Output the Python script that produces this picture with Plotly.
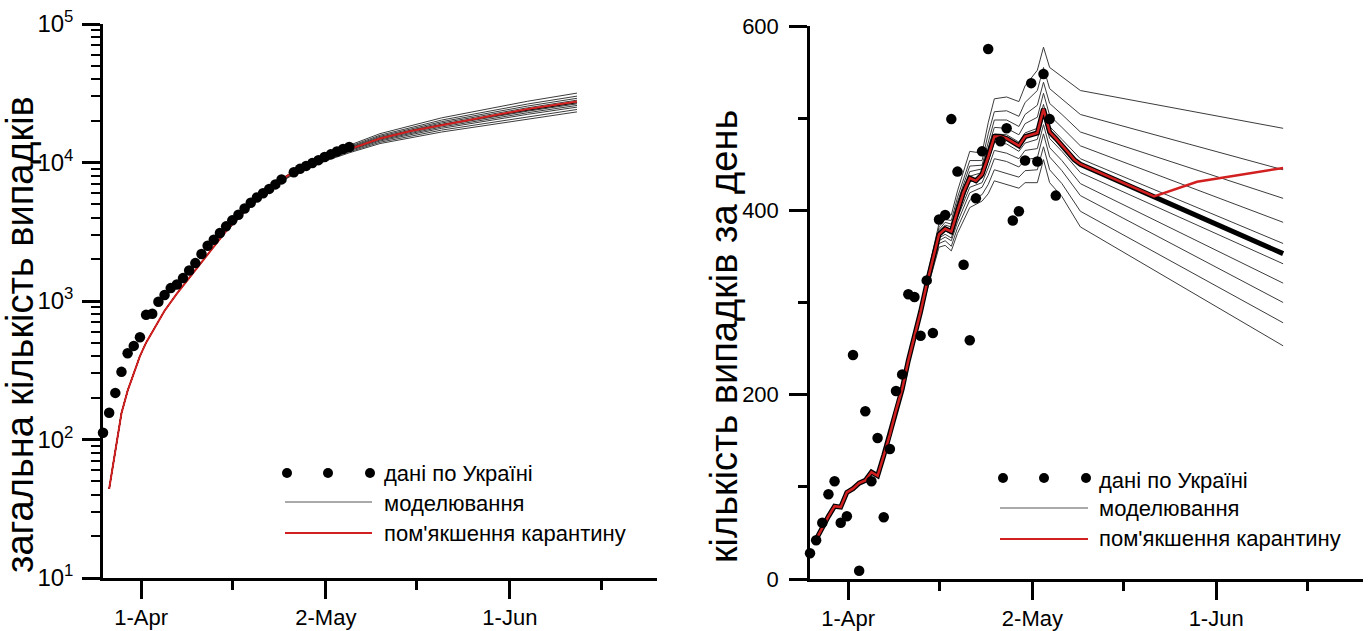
import plotly.graph_objects as go

W, H = 1371, 631
FONT = "Liberation Sans, Arial, sans-serif"

# ---------------- data (day 0 = first observation) ----------------
DOT_DAYS = list(range(0, 30)) + list(range(31, 41))
CUMULATIVE_CASES = [112, 156, 217, 308, 420, 474, 548, 794, 809, 987,
                    1104, 1239, 1316, 1463, 1660, 1878, 2183, 2506, 2769, 3096,
                    3458, 3821, 4200, 4660, 5120, 5595, 6000, 6450, 6950, 7550,
                    8500, 9000, 9450, 9900, 10400, 10950, 11450, 12000, 12500, 12950]
DAILY_CASES = [28, 42, 61, 92, 106, 61, 68, 243, 9, 182,
               106, 153, 67, 141, 204, 222, 309, 306, 264, 324,
               267, 390, 395, 499, 442, 341, 259, 413, 464, 575,
               475, 489, 389, 399, 454, 538, 453, 548, 499, 416]

# cumulative model (left)
LEFT_CENTER_DAYS = [1, 2, 3, 4, 5, 6, 7, 8, 9, 10, 12, 14, 16, 18, 20, 22, 24, 26, 28, 30,
                    32, 34, 36, 38, 40, 42, 45, 50, 55, 61, 69, 77]
LEFT_CENTER = [44, 85, 155, 225, 305, 400, 500, 600, 720, 850, 1130, 1470, 1880, 2440, 3200,
               4000, 4850, 5900, 7000, 8050, 9000, 9850, 10700, 11600, 12500, 13450, 14900,
               16900, 18700, 20800, 23900, 27000]
LEFT_RED_LATE_DAYS = [61, 69, 77]
LEFT_RED_LATE = [20900, 24300, 27600]
LEFT_FAN_DAYS = [20, 24, 28, 32, 36, 40, 45, 55, 69, 77]
LEFT_FAN = [
    [3200, 4870, 7120, 9300, 11220, 13300, 16150, 21000, 27700, 31700],
    [3200, 4860, 7080, 9200, 11050, 13040, 15740, 20240, 26450, 30150],
    [3200, 4860, 7050, 9130, 10930, 12850, 15450, 19710, 25570, 29070],
    [3200, 4855, 7030, 9075, 10830, 12700, 15210, 19280, 24850, 28180],
    [3200, 4852, 7010, 9020, 10740, 12560, 15000, 18880, 24200, 27380],
    [3200, 4847, 6980, 8960, 10640, 12400, 14740, 18430, 23480, 26510],
    [3200, 4844, 6960, 8910, 10550, 12270, 14530, 18050, 22890, 25820],
    [3200, 4840, 6940, 8855, 10450, 12130, 14300, 17650, 22280, 25100],
    [3200, 4835, 6910, 8780, 10330, 11940, 14000, 17130, 21460, 24150],
    [3200, 4830, 6880, 8710, 10200, 11750, 13700, 16600, 20650, 23200],
]

# daily model (right)
RIGHT_CENTER_DAYS = list(range(1, 45)) + [56, 77]
RIGHT_CENTER = [43, 56, 68, 79, 78, 94, 98, 104, 107, 116,
                112, 134, 157, 183, 206, 237, 262, 290, 320, 348,
                374, 380, 377, 399, 420, 435, 432, 439, 458, 480,
                480, 478, 474, 470, 480, 482, 484, 510, 485, 478,
                471, 463, 455, 450, 415, 353]
RIGHT_RED_LATE_DAYS = [63, 77]
RIGHT_RED_LATE = [431, 446]
RIGHT_FAN_DAYS = [17, 19, 21, 22, 23, 24, 26, 28, 29, 30, 32, 34, 35, 37, 38, 39, 41, 44, 77]
RIGHT_FAN = [
    [264, 326, 386, 395, 395, 421, 464, 462, 495, 521, 523, 518, 535, 552, 577, 555, 545, 530, 489],
    [263, 324, 382, 390, 389, 414, 454, 454, 483, 507, 508, 502, 517, 530, 555, 532, 521, 504, 444],
    [263, 323, 379, 387, 385, 409, 448, 449, 474, 498, 498, 491, 504, 514, 539, 516, 504, 485, 413],
    [262, 321, 377, 384, 382, 405, 442, 445, 467, 490, 489, 482, 494, 501, 527, 503, 490, 470, 387],
    [262, 320, 375, 381, 378, 401, 437, 441, 461, 483, 482, 474, 484, 489, 515, 491, 477, 456, 364],
    [261, 319, 372, 378, 374, 396, 431, 435, 453, 474, 472, 464, 473, 477, 503, 478, 464, 441, 342],
    [261, 318, 370, 374, 370, 392, 425, 430, 446, 465, 462, 456, 465, 467, 493, 468, 454, 429, 321],
    [260, 316, 367, 371, 367, 387, 419, 425, 438, 456, 453, 447, 455, 457, 483, 458, 443, 416, 300],
    [259, 314, 364, 367, 361, 381, 411, 417, 428, 444, 440, 436, 443, 444, 469, 444, 429, 399, 278],
    [258, 312, 360, 362, 356, 375, 403, 410, 418, 432, 428, 424, 430, 430, 455, 430, 415, 382, 253],
]

X_TICK_DAYS = [6.2, 36.2, 66.1]
X_TICK_LABELS = ["1-Apr", "2-May", "1-Jun"]
X_MINOR_DAYS = [21, 51, 81]
LOG_TICKS = [10, 100, 1000, 10000, 100000]
LOG_TICK_LABELS = ["10<sup>1</sup>", "10<sup>2</sup>", "10<sup>3</sup>", "10<sup>4</sup>", "10<sup>5</sup>"]
LEGEND_LABELS = ["дані по Україні", "моделювання", "пом'якшення карантину"]
Y_TITLES = ["загальна кількість випадків", "кількість випадків за день"]

RED = "#d21f1f"
GRAY = "#3c3c3c"

fig = go.Figure()

# ---------------- left panel ----------------
n_early_left = LEFT_CENTER_DAYS.index(20)
for fan in LEFT_FAN:
    fig.add_trace(go.Scatter(x=LEFT_CENTER_DAYS[:n_early_left] + LEFT_FAN_DAYS,
                             y=LEFT_CENTER[:n_early_left] + fan,
                             mode="lines", line=dict(color=GRAY, width=1),
                             xaxis="x", yaxis="y", showlegend=False))
fig.add_trace(go.Scatter(x=LEFT_CENTER_DAYS, y=LEFT_CENTER, mode="lines",
                         line=dict(color="black", width=1.2), xaxis="x", yaxis="y", showlegend=False))
n_red_left = LEFT_CENTER_DAYS.index(61)
fig.add_trace(go.Scatter(x=LEFT_CENTER_DAYS[:n_red_left] + LEFT_RED_LATE_DAYS,
                         y=LEFT_CENTER[:n_red_left] + LEFT_RED_LATE, mode="lines",
                         line=dict(color=RED, width=2), xaxis="x", yaxis="y", showlegend=False))
fig.add_trace(go.Scatter(x=DOT_DAYS, y=CUMULATIVE_CASES, mode="markers",
                         marker=dict(color="black", size=10.5), cliponaxis=False,
                         xaxis="x", yaxis="y", showlegend=False))

# ---------------- right panel ----------------
n_early_right = RIGHT_CENTER_DAYS.index(17)
for fan in RIGHT_FAN:
    fig.add_trace(go.Scatter(x=RIGHT_CENTER_DAYS[:n_early_right] + RIGHT_FAN_DAYS,
                             y=RIGHT_CENTER[:n_early_right] + fan,
                             mode="lines", line=dict(color=GRAY, width=1),
                             xaxis="x2", yaxis="y2", showlegend=False))
fig.add_trace(go.Scatter(x=RIGHT_CENTER_DAYS, y=RIGHT_CENTER, mode="lines",
                         line=dict(color="black", width=5), xaxis="x2", yaxis="y2", showlegend=False))
n_red_right = RIGHT_CENTER_DAYS.index(56) + 1
fig.add_trace(go.Scatter(x=RIGHT_CENTER_DAYS[:n_red_right] + RIGHT_RED_LATE_DAYS,
                         y=RIGHT_CENTER[:n_red_right] + RIGHT_RED_LATE, mode="lines",
                         line=dict(color=RED, width=2.5), xaxis="x2", yaxis="y2", showlegend=False))
fig.add_trace(go.Scatter(x=DOT_DAYS, y=DAILY_CASES, mode="markers",
                         marker=dict(color="black", size=10.5), cliponaxis=False,
                         xaxis="x2", yaxis="y2", showlegend=False))

# ---------------- axes ----------------
tickfont = dict(family=FONT, size=22, color="black")
common_x = dict(range=[0, 90], tickmode="array", tickvals=X_TICK_DAYS, ticktext=X_TICK_LABELS,
                ticks="outside", ticklen=18, tickwidth=2.5, tickcolor="black", automargin=False,
                showline=True, linewidth=2.5, linecolor="black", showgrid=False, zeroline=False,
                tickfont=tickfont, ticklabelstandoff=0,
                minor=dict(tickmode="array", tickvals=X_MINOR_DAYS, ticks="outside",
                           ticklen=9, tickwidth=2.5, tickcolor="black", showgrid=False))

minor_log = [m * 10 ** e for e in range(1, 5) for m in range(2, 10)]

fig.update_layout(
    width=W, height=H, margin=dict(l=0, r=0, t=0, b=0, autoexpand=False),
    paper_bgcolor="white", plot_bgcolor="white",
    font=dict(family=FONT, color="black"),
    xaxis=dict(domain=[103 / W, 657 / W], anchor="y", **common_x),
    xaxis2=dict(domain=[810 / W, 1363 / W], anchor="y2", **common_x),
    yaxis=dict(domain=[(H - 578) / H, (H - 24) / H], anchor="x", type="log", range=[1, 5],
               tickmode="array", tickvals=LOG_TICKS, ticktext=LOG_TICK_LABELS, automargin=False,
               ticks="outside", ticklen=18, tickwidth=2.5, tickcolor="black",
               showline=True, linewidth=2.5, linecolor="black", showgrid=False, zeroline=False,
               tickfont=dict(family=FONT, size=24, color="black"), ticklabelstandoff=4,
               minor=dict(tickmode="array", tickvals=minor_log, ticks="outside", ticklen=9,
                          tickwidth=2, tickcolor="black", showgrid=False)),
    yaxis2=dict(domain=[(H - 579) / H, (H - 26) / H], anchor="x2", range=[0, 600],
                tickmode="linear", tick0=0, dtick=200, automargin=False,
                ticks="outside", ticklen=18, tickwidth=2.5, tickcolor="black",
                showline=True, linewidth=2.5, linecolor="black", showgrid=False, zeroline=False,
                tickfont=tickfont, ticklabelstandoff=6,
                minor=dict(tickmode="linear", tick0=100, dtick=200, ticks="outside", ticklen=9,
                           tickwidth=2.5, tickcolor="black", showgrid=False)),
)

# ---------------- titles and legends ----------------
def px(x):
    return x / W


def py(y):
    return 1 - y / H


shapes, annotations = [], []
for title, (cx, cy) in zip(Y_TITLES, [(20, 335), (724, 337)]):
    annotations.append(dict(text=title, xref="paper", yref="paper", x=px(cx), y=py(cy),
                            xanchor="center", yanchor="middle", textangle=-90, showarrow=False,
                            font=dict(family=FONT, size=38, color="black")))

LEGENDS = [
    dict(dots=[287, 328, 370], dot_y=473, line_x=(285, 372), line_y=(502, 533),
         text_x=382, text_y=(473, 504, 533)),
    dict(dots=[1003, 1044, 1086], dot_y=478, line_x=(1000, 1088), line_y=(508, 539),
         text_x=1097, text_y=(480, 508, 538)),
]
for lg in LEGENDS:
    r = 5
    for cx in lg["dots"]:
        shapes.append(dict(type="circle", xref="paper", yref="paper",
                           x0=px(cx - r), x1=px(cx + r), y0=py(lg["dot_y"] + r), y1=py(lg["dot_y"] - r),
                           fillcolor="black", line=dict(width=0)))
    shapes.append(dict(type="line", xref="paper", yref="paper",
                       x0=px(lg["line_x"][0]), x1=px(lg["line_x"][1]),
                       y0=py(lg["line_y"][0]), y1=py(lg["line_y"][0]),
                       line=dict(color="#555555", width=1)))
    shapes.append(dict(type="line", xref="paper", yref="paper",
                       x0=px(lg["line_x"][0]), x1=px(lg["line_x"][1]),
                       y0=py(lg["line_y"][1]), y1=py(lg["line_y"][1]),
                       line=dict(color=RED, width=2)))
    for label, ty in zip(LEGEND_LABELS, lg["text_y"]):
        annotations.append(dict(text=label, xref="paper", yref="paper", x=px(lg["text_x"]), y=py(ty),
                                xanchor="left", yanchor="middle", showarrow=False,
                                font=dict(family=FONT, size=22, color="black")))

fig.update_layout(shapes=shapes, annotations=annotations)

fig.write_html("out.html")
